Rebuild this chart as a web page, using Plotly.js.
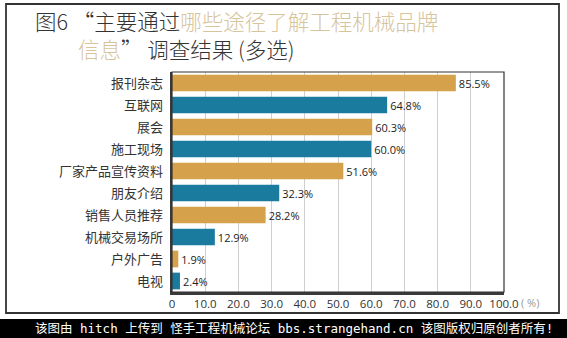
<!DOCTYPE html>
<html>
<head>
<meta charset="utf-8">
<script src="https://cdn.plot.ly/plotly-3.0.1.min.js"></script>
<style>
html,body{margin:0;padding:0;background:#fff;}
#chart{width:567px;height:338px;}
</style>
</head>
<body>
<div id="chart"></div>
<script>
const categories = ["报刊杂志","互联网","展会","施工现场","厂家产品宣传资料","朋友介绍","销售人员推荐","机械交易场所","户外广告","电视"];
const values = [85.5, 64.8, 60.3, 60.0, 51.6, 32.3, 28.2, 12.9, 1.9, 2.4];
const barColors = ["#D5A24B","#1A7B9E","#D5A24B","#1A7B9E","#D5A24B","#1A7B9E","#D5A24B","#1A7B9E","#D5A24B","#1A7B9E"];
const tickVals = [0,10,20,30,40,50,60,70,80,90,100];
const tickText = ["0","10.0","20.0","30.0","40.0","50.0","60.0","70.0","80.0","90.0","100.0"];

const W = 567, H = 338;
const L = 172, R = 504, T = 72, B = 292;
const px = x => (x - L) / (R - L);
const py = y => (B - y) / (B - T);

const gold = "#D8C49B";
const dark = "#333";
const cjk = "'Noto Sans CJK SC', 'Noto Sans', sans-serif";

const trace = {
  type: "bar",
  orientation: "h",
  y: categories,
  x: values,
  marker: {color: barColors, line: {width: 0}},
  width: 0.76,
  text: values.map(v => v.toFixed(1) + "%"),
  textposition: "outside",
  cliponaxis: false,
  textfont: {family: "'Open Sans', 'Noto Sans', sans-serif", size: 11, color: "#222"},
  hoverinfo: "none"
};

const layout = {
  width: W, height: H,
  margin: {l: L, r: W - R, t: T, b: H - B, pad: 0},
  paper_bgcolor: "#fff",
  plot_bgcolor: "#fff",
  showlegend: false,
  font: {family: cjk, color: dark},
  xaxis: {
    range: [0, 100],
    tickvals: tickVals,
    ticktext: tickText,
    showgrid: true,
    gridcolor: "#cfcfcf",
    gridwidth: 1,
    zeroline: false,
    showline: true,
    linecolor: "#3a3a3a",
    linewidth: 2.5,
    ticks: "",
    tickfont: {family: "'Open Sans', 'Noto Sans', sans-serif", size: 11.5, color: "#333"},
    fixedrange: true
  },
  yaxis: {
    autorange: "reversed",
    showgrid: false,
    zeroline: false,
    showline: true,
    linecolor: "#3a3a3a",
    linewidth: 2.5,
    ticks: "",
    ticklabelstandoff: 4,
    tickfont: {family: cjk, size: 13, color: "#333"},
    fixedrange: true
  },
  shapes: [
    {type: "rect", xref: "paper", yref: "paper", x0: 0, x1: 1, y0: 0, y1: 1,
     line: {color: "#333", width: 1.2}, layer: "above"},
    {type: "rect", xref: "paper", yref: "paper", x0: px(6), x1: px(559), y0: py(313), y1: py(4),
     line: {color: "#333", width: 1.8}},
    {type: "rect", xref: "paper", yref: "paper", x0: px(-2), x1: px(569), y0: py(340), y1: py(319),
     fillcolor: "#000", line: {width: 0}}
  ],
  annotations: [
    {xref: "paper", yref: "paper", x: px(33), y: py(35), xanchor: "left", yanchor: "middle",
     showarrow: false, align: "left",
     font: {family: cjk, size: 21.5, color: dark, weight: 300},
     text: "图6 “主要通过<span style='color:" + gold + "'>哪些途径了解工程机械品牌</span><br>" +
           "　　<span style='color:" + gold + "'>信息</span>” 调查结果 (多选)"},
    {xref: "paper", yref: "paper", x: px(519), y: py(302), xanchor: "left", yanchor: "middle",
     showarrow: false,
     font: {family: "'Open Sans', 'Noto Sans', sans-serif", size: 11, color: "#999"},
     text: "( %)"},
    {xref: "paper", yref: "paper", x: px(33), y: py(328.5), xanchor: "left", yanchor: "middle",
     showarrow: false,
     font: {family: "'DejaVu Sans Mono', 'Noto Sans CJK SC', monospace", size: 12.5, color: "#fff"},
     text: "该图由 hitch 上传到 怪手工程机械论坛 bbs.strangehand.cn 该图版权归原创者所有!"}
  ]
};

Plotly.newPlot("chart", [trace], layout, {displayModeBar: false, staticPlot: true});
</script>
</body>
</html>
